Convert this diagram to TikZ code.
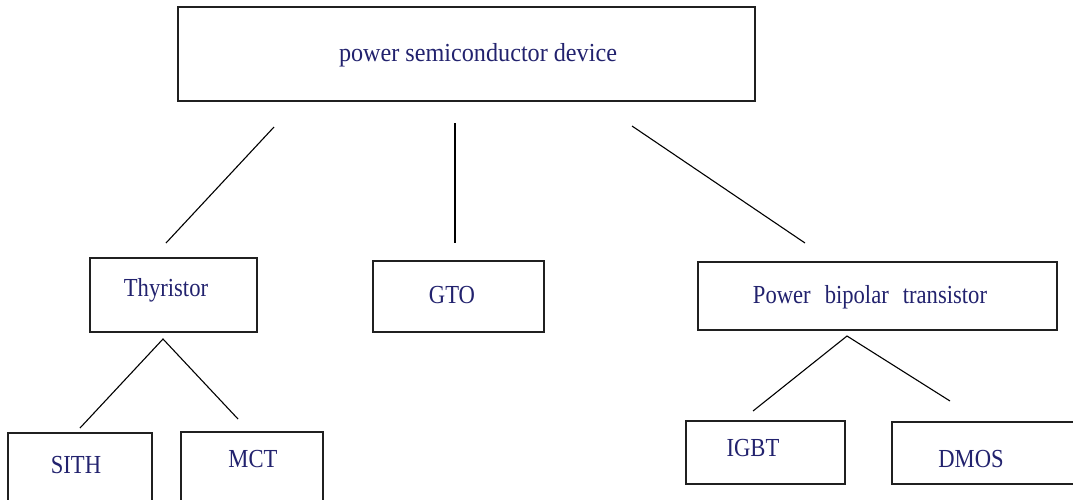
\documentclass[tikz,border=0pt]{standalone}
\usepackage{fontspec}
\newfontfamily\lblfont[FakeStretch=0.87]{Liberation Serif}
\newfontfamily\lbltopfont[FakeStretch=0.93]{Liberation Serif}
\definecolor{txtblue}{HTML}{22226E}
\definecolor{boxline}{HTML}{202020}
\begin{document}
\begin{tikzpicture}[x=1pt,y=-1pt,
  box/.style={draw=boxline,line width=1.6pt,rectangle,inner sep=0pt},
  lbl/.style={anchor=base,inner sep=0pt,text=txtblue,font=\lblfont\fontsize{26}{30}\selectfont},
  toplbl/.style={anchor=base,inner sep=0pt,text=txtblue,font=\lbltopfont\fontsize{26}{30}\selectfont},
  conn/.style={draw=black,line width=1.1pt}]
\useasboundingbox (0,0) rectangle (1073,499);
\clip (0,0) rectangle (1073,499);
\fill[white] (0,0) rectangle (1073,499);
% boxes
\node[box,minimum width=577pt,minimum height=94pt] (top) at (466.5,54) {};
\node[box,minimum width=167pt,minimum height=74pt] (thy) at (173.5,295) {};
\node[box,minimum width=171pt,minimum height=71pt] (gto) at (458.5,296.5) {};
\node[box,minimum width=359pt,minimum height=68pt] (pbt) at (877.5,296) {};
\node[box,minimum width=144pt,minimum height=90pt] (sith) at (80,478) {};
\node[box,minimum width=142pt,minimum height=90pt] (mct) at (252,477) {};
\node[box,minimum width=159pt,minimum height=63pt] (igbt) at (765.5,452.5) {};
\node[box,minimum width=208pt,minimum height=62pt] (dmos) at (996,453) {};
% labels
\node[toplbl] (ttop) at (478,61) {power semiconductor device};
\node[lbl] (tthy) at (166,296) {Thyristor};
\node[lbl] (tgto) at (452,303) {GTO};
\node[lbl] (tpbt) at (870,303) {Power\hspace{14pt}bipolar\hspace{14pt}transistor};
\node[lbl] (tsith) at (76,473) {SITH};
\node[lbl] (tmct) at (253,467) {MCT};
\node[lbl] (tigbt) at (753,456) {IGBT};
\node[lbl] (tdmos) at (971,467) {DMOS};
% connector end points
\coordinate (a1) at (274,127);
\coordinate (a2) at (166,243);
\coordinate (b1) at (455,123);
\coordinate (b2) at (455,243);
\coordinate (c1) at (632,126);
\coordinate (c2) at (805,243);
\coordinate (tapex) at (163,339);
\coordinate (tl) at (80,428);
\coordinate (tr) at (238,419);
\coordinate (papex) at (847,336);
\coordinate (pl) at (753,411);
\coordinate (pr) at (950,401);
\draw[conn] (a1) -- (a2);
\draw[conn] (b1) -- (b2);
\draw[conn] (c1) -- (c2);
\draw[conn] (tl) -- (tapex) -- (tr);
\draw[conn] (pl) -- (papex) -- (pr);
\end{tikzpicture}
\end{document}
